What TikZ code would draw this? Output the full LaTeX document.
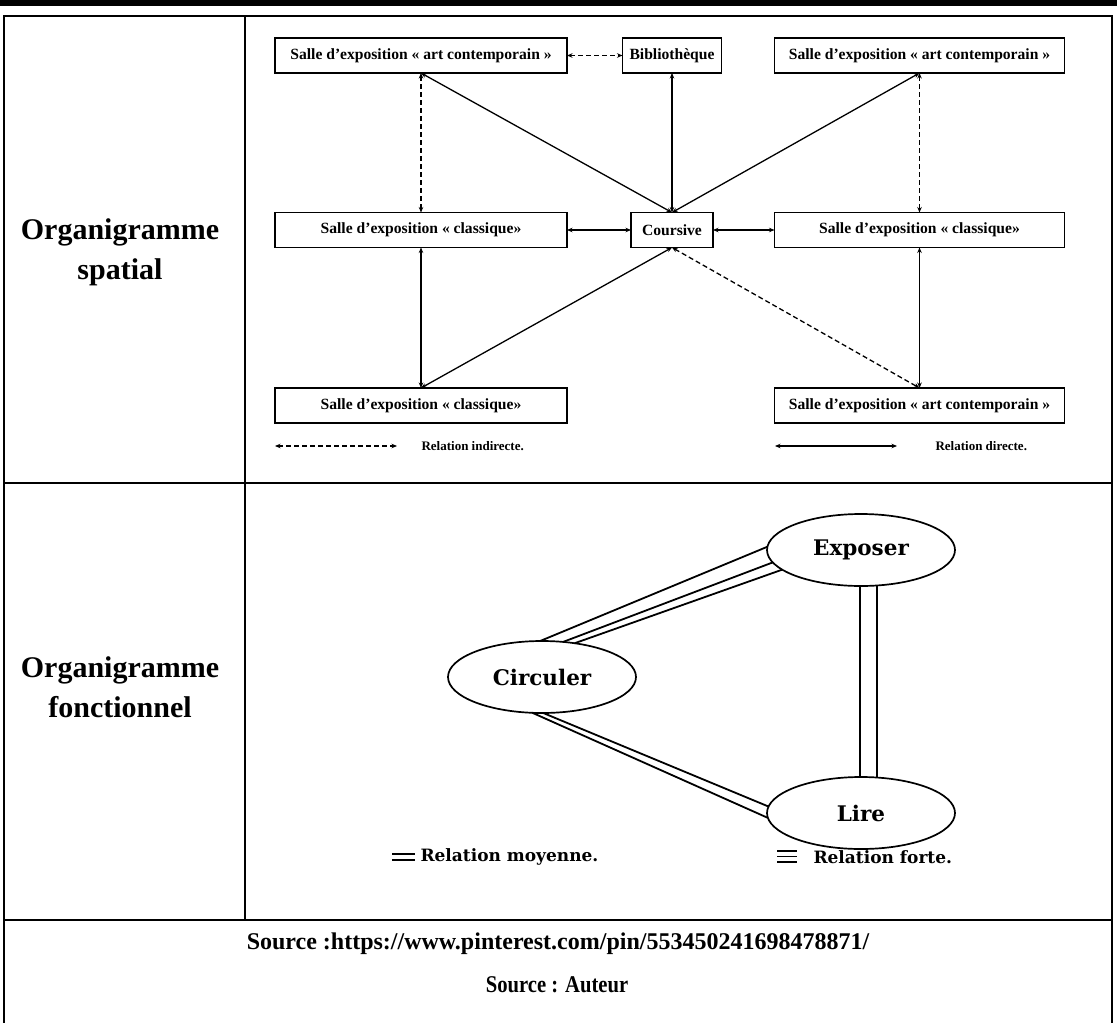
\documentclass[tikz,border=0pt]{standalone}
\usepackage{fontspec}
\setmainfont{Liberation Serif}
\newfontfamily\djs{DejaVu Serif}
\usetikzlibrary{arrows.meta,shapes.geometric}
\begin{document}
\begin{tikzpicture}[x=1pt,y=-1pt,
  box/.style={draw, line width=1.8pt, minimum height=35pt, inner sep=0pt, outer sep=0pt,
    font=\fontsize{15.6}{18}\selectfont\bfseries},
  rel/.style={line width=1.3pt, {Stealth[length=5.5pt,width=4.5pt]}-{Stealth[length=5.5pt,width=4.5pt]}},
  ind/.style={rel, dash pattern=on 5pt off 3pt},
  ell/.style={draw, ellipse, line width=1.7pt, minimum width=188pt, minimum height=72pt,
    inner sep=0pt, outer sep=0pt, font=\djs\bfseries\fontsize{21.5}{25}\selectfont},
  link/.style={line width=1.8pt},
  rowlabel/.style={font=\fontsize{30}{40}\selectfont\bfseries, align=center},
  leg/.style={anchor=west, font=\fontsize{13}{16}\selectfont\bfseries},
  fleg/.style={anchor=west, font=\djs\bfseries\fontsize{17}{20}\selectfont},
  src/.style={font=\fontsize{24}{28}\selectfont\bfseries},
  frame/.style={line width=1.6pt}
]
\useasboundingbox (0,0) rectangle (1117,1023);
% table
\draw[line width=6pt] (0,3) -- (1117,3);
\draw[frame] (4,1023) -- (4,16) -- (1112,16) -- (1112,1023);
\draw[frame] (245,16) -- (245,920);
\draw[frame] (4,483) -- (1112,483);
\draw[line width=2.2pt] (4,920) -- (1112,920);
% row labels
\node[rowlabel] (r1) at (120,252) {Organigramme\\spatial};
\node[rowlabel] (r2) at (120,687) {Organigramme\\fonctionnel};
\node[src] (s1) at (558,944) {Source :https://www.pinterest.com/pin/553450241698478871/};
\node[src] (s2) at (557,985) {\scalebox{0.86}[1]{Source : Auteur}};
% spatial boxes
\node[box, minimum width=292pt] (A) at (421,55.5) {Salle d’exposition « art contemporain »};
\node[box, minimum width=99pt] (B) at (672,55.5) {Bibliothèque};
\node[box, minimum width=290pt] (C) at (919.5,55.5) {Salle d’exposition « art contemporain »};
\node[box, minimum width=292pt] (D) at (421,230) {Salle d’exposition « classique»};
\node[box, minimum width=82pt] (K) at (672,230) {Coursive};
\node[box, minimum width=290pt] (E) at (919.5,230) {Salle d’exposition « classique»};
\node[box, minimum width=292pt] (F) at (421,405.5) {Salle d’exposition « classique»};
\node[box, minimum width=290pt] (G) at (919.5,405.5) {Salle d’exposition « art contemporain »};
% connectors
\draw[ind] (A.east) -- (B.west);
\draw[ind] (A.south) -- (D.north);
\draw[rel] (B.south) -- (K.north);
\draw[rel] (A.south) -- (K.north);
\draw[rel] (C.south) -- (K.north);
\draw[ind] (C.south) -- (E.north);
\draw[rel] (D.east) -- (K.west);
\draw[rel] (K.east) -- (E.west);
\draw[rel] (D.south) -- (F.north);
\draw[rel] (F.north) -- (K.south);
\draw[ind] (K.south) -- (G.north);
\draw[rel] (E.south) -- (G.north);
% spatial legend
\coordinate (l1a) at (275,446);
\coordinate (l1b) at (397,446);
\draw[ind] (l1a) -- (l1b);
\node[leg] (l1t) at (418,446) {Relation indirecte.};
\coordinate (l2a) at (775,446);
\coordinate (l2b) at (897,446);
\draw[rel] (l2a) -- (l2b);
\node[leg] (l2t) at (932,446) {Relation directe.};
% functional
\node[ell] (X) at (861,550) {Exposer};
\node[ell] (Ci) at (542,677) {Circuler};
\node[ell] (L) at (861,813) {Lire};
\draw[link] (Ci.93) -- (X.178);
\draw[link] (Ci.59) -- (X.188);
\draw[link] (Ci.46) -- (X.194);
\draw[link] (Ci.-88) -- (L.176);
\draw[link] (Ci.-105) -- (L.183);
\draw[link] (X.-92) -- (L.92);
\draw[link] (X.-66) -- (L.66);
% functional legend
\coordinate (m1) at (392,854); \coordinate (m2) at (415,854);
\coordinate (m3) at (392,860); \coordinate (m4) at (415,860);
\draw[link] (m1) -- (m2);
\draw[link] (m3) -- (m4);
\node[fleg] (mt) at (417,857) {Relation moyenne.};
\coordinate (f1) at (777,851); \coordinate (f2) at (797,851);
\coordinate (f3) at (777,856.5); \coordinate (f4) at (797,856.5);
\coordinate (f5) at (777,862); \coordinate (f6) at (797,862);
\draw[link] (f1) -- (f2);
\draw[link] (f3) -- (f4);
\draw[link] (f5) -- (f6);
\node[fleg] (ft) at (810,857) {Relation forte.};
\end{tikzpicture}
\end{document}
